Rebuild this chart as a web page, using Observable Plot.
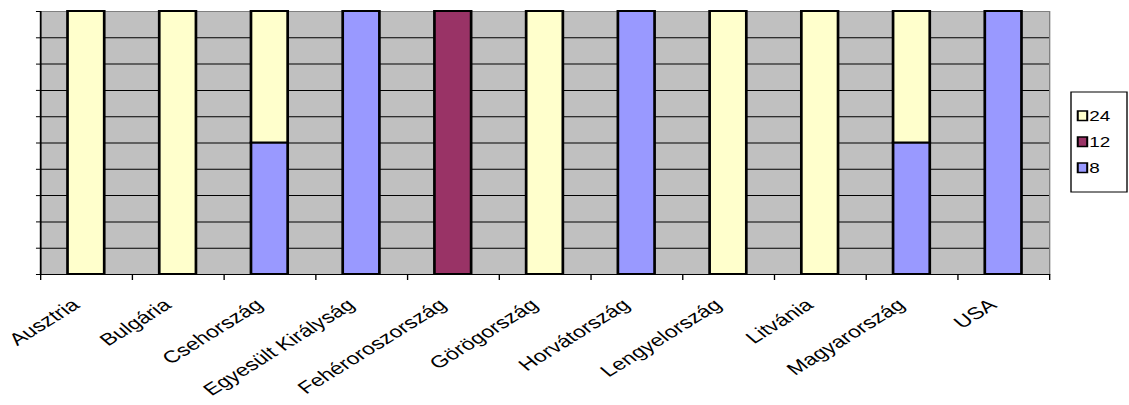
<!DOCTYPE html>
<html><head><meta charset="utf-8">
<script src="https://cdn.jsdelivr.net/npm/d3@7"></script>
<script src="https://cdn.jsdelivr.net/npm/@observablehq/plot@0.6"></script>
<style>
  html, body { margin: 0; padding: 0; background: #fff; }
  #chart svg { display: block; }
</style>
</head><body><div id="chart"></div>
<script>
// ---- data ----
const countries = ["Ausztria","Bulgária","Csehország","Egyesült Királyság","Fehéroroszország","Görögország","Horvátország","Lengyelország","Litvánia","Magyarország","USA"];
const seriesNames = ["24","12","8"];           // legend order (top to bottom)
const values24 = [1,1,1,0,0,1,0,1,1,1,0];
const values12 = [0,0,0,0,1,0,0,0,0,0,0];
const values8  = [0,0,1,1,0,0,1,0,0,1,1];
const seriesColors = ["#FFFFCC","#993366","#9999FF"];
const yTicks = [0,0.1,0.2,0.3,0.4,0.5,0.6,0.7,0.8,0.9,1];

// ---- 100% stacked table ----
const valuesBySeries = {"24": values24, "12": values12, "8": values8};
const stackOrder = ["8","12","24"];  // bottom to top
const rows = [];
countries.forEach((c, i) => {
  const total = d3.sum(stackOrder, s => valuesBySeries[s][i]);
  let cum = 0;
  for (const s of stackOrder) {
    const v = valuesBySeries[s][i];
    if (v > 0) rows.push({country: c, index: i, series: s, y1: cum / total, y2: (cum + v) / total});
    cum += v;
  }
});

// ---- layout (drawn in an inner space, then stretched horizontally like the original) ----
const K = 1.35;
const W = 1129, H = 405;
const innerW = W / K;
const mL = 40 / K, mR = (W - 1049) / K, mT = 11, mB = H - 274;
const step = (innerW - mL - mR) / countries.length;
const inset = step * 0.3;
const font = "'Liberation Sans', Arial, Helvetica, sans-serif";

const svg = Plot.plot({
  width: innerW, height: H,
  marginLeft: mL, marginRight: mR, marginTop: mT, marginBottom: mB,
  style: {fontFamily: font, background: "white", color: "black", overflow: "visible"},
  x: {domain: [0, countries.length], axis: null},
  y: {domain: [0, 1], axis: null},
  color: {domain: seriesNames, range: seriesColors},
  marks: [
    Plot.frame({fill: "#C0C0C0", stroke: "#808080"}),
    Plot.ruleY(yTicks.slice(1, -1), {stroke: "black", strokeWidth: 1}),
    Plot.axisY(yTicks, {tickSize: 3, tickFormat: () => "", stroke: "black", label: null}),
    Plot.ruleX([0], {stroke: "black", strokeWidth: 1.3}),
    Plot.axisX(d3.range(countries.length + 1), {tickSize: 6, tickFormat: () => "", stroke: "black", label: null}),
    Plot.ruleY([0], {stroke: "black", strokeWidth: 1}),
    Plot.rectY(rows, {
      x1: "index", x2: d => d.index + 1, y1: "y1", y2: "y2",
      fill: "series", stroke: "black", strokeWidth: 2,
      insetLeft: inset, insetRight: inset
    }),
    Plot.text(countries, {
      x: (d, i) => i + 0.5, y: () => 0, text: d => d,
      rotate: -40, textAnchor: "end", lineAnchor: "top",
      dx: -12, dy: 23, fontSize: 17, fill: "black"
    })
  ]
});

// legend (inside the svg, at the right)
const g = d3.select(svg).append("g")
  .attr("font-family", font).attr("font-size", 14).attr("text-anchor", "start");
const lx = 1071 / K, ly = 92, lw = (1127 - 1071) / K, lh = 100;
g.append("rect").attr("x", lx).attr("y", ly).attr("width", lw).attr("height", lh)
  .attr("fill", "white").attr("stroke", "black").attr("stroke-width", 1);
seriesNames.forEach((s, i) => {
  const yy = ly + 19 + i * 26;
  g.append("rect").attr("x", lx + 5).attr("y", yy).attr("width", 7).attr("height", 9.5)
    .attr("fill", seriesColors[i]).attr("stroke", "black").attr("stroke-width", 1.5);
  g.append("text").attr("x", lx + 13.5).attr("y", yy + 10).attr("fill", "black")
    .style("font-size", "14px").attr("text-anchor", "start").text(s);
});

svg.setAttribute("viewBox", `0 0 ${innerW} ${H}`);
svg.setAttribute("preserveAspectRatio", "none");
svg.setAttribute("width", W);
svg.setAttribute("height", H);
svg.style.width = W + "px";
svg.style.height = H + "px";
svg.style.maxWidth = "none";
document.getElementById("chart").appendChild(svg);
</script>
</body></html>
